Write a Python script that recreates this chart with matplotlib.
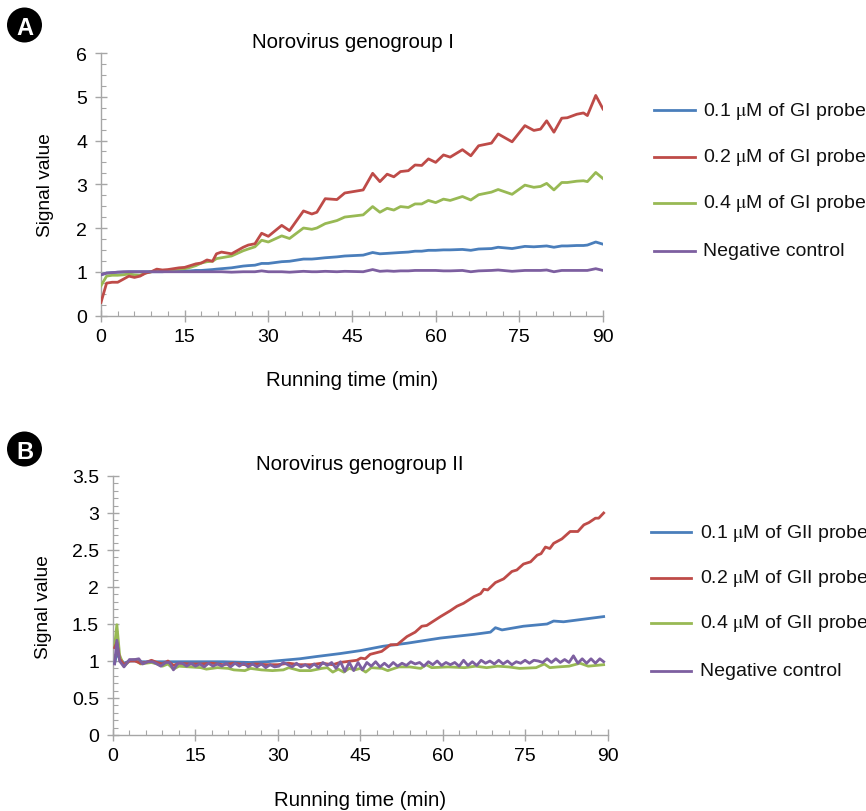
"""Norovirus signal curves, panels A (genogroup I) and B (genogroup II)."""
import matplotlib
matplotlib.use("Agg")
import matplotlib.pyplot as plt
from matplotlib.patches import Ellipse
from matplotlib.ticker import MultipleLocator

plt.rcParams["font.family"] = ["Liberation Sans", "DejaVu Sans"]
plt.rcParams["mathtext.fontset"] = "stix"

BLUE, RED, GREEN, PURPLE = "#4a7ebb", "#be4b48", "#98b954", "#7d5fa0"
GREY = "#a6a6a6"

# ---------------------------------------------------------------------------
# Panel A data (all four curves share the same sampling)
# ---------------------------------------------------------------------------
t_a = [0, 1, 2, 3, 4, 5, 6, 7, 8, 9, 10, 11, 12, 13, 14, 15, 16, 17, 18, 19, 20,
       20.7, 21.6, 23.4, 25.5, 26.4, 27.6, 28.8, 30, 32.4, 33.8, 36.3, 37.8, 38.7,
       40.2, 42.3, 43.7, 47, 48.7, 50, 51.3, 52.5, 53.7, 55.1, 56.3, 57.5, 58.7,
       60, 61.4, 62.6, 64.8, 66.3, 67.7, 70, 71.2, 73.7, 76, 77.6, 78.8, 79.9,
       81.2, 82.6, 83.6, 85.3, 86.5, 87.2, 88.7, 90]
red_a = [0.3, 0.74, 0.76, 0.76, 0.83, 0.9, 0.87, 0.9, 0.97, 1.0, 1.06, 1.04, 1.05,
         1.07, 1.09, 1.1, 1.14, 1.18, 1.2, 1.27, 1.24,
         1.41, 1.45, 1.41, 1.56, 1.61, 1.64, 1.88, 1.81, 2.06, 1.94, 2.39, 2.32, 2.36,
         2.67, 2.65, 2.80, 2.87, 3.25, 3.06, 3.23, 3.17, 3.29, 3.31, 3.44, 3.43, 3.58,
         3.50, 3.67, 3.62, 3.79, 3.65, 3.88, 3.94, 4.15, 3.97, 4.34, 4.23, 4.26, 4.45,
         4.19, 4.51, 4.52, 4.60, 4.63, 4.57, 5.03, 4.72]
green_a = [0.68, 0.9, 0.92, 0.92, 0.93, 0.95, 0.93, 0.92, 0.97, 1.0, 1.03, 1.03, 1.03,
           1.05, 1.06, 1.07, 1.1, 1.14, 1.2, 1.23, 1.24,
           1.3, 1.32, 1.36, 1.48, 1.52, 1.57, 1.72, 1.68, 1.82, 1.76, 2.0, 1.97, 2.0,
           2.1, 2.17, 2.25, 2.30, 2.49, 2.36, 2.45, 2.41, 2.49, 2.47, 2.55, 2.55, 2.63,
           2.58, 2.66, 2.63, 2.72, 2.64, 2.76, 2.82, 2.88, 2.77, 2.98, 2.93, 2.95, 3.02,
           2.87, 3.04, 3.04, 3.07, 3.08, 3.06, 3.27, 3.13]
blue_a = [0.93, 0.97, 0.98, 0.99, 0.99, 1.0, 1.0, 1.0, 1.0, 1.0, 1.0, 1.0, 1.01,
          1.01, 1.01, 1.02, 1.02, 1.03, 1.03, 1.04, 1.05,
          1.06, 1.07, 1.09, 1.13, 1.14, 1.15, 1.19, 1.19, 1.23, 1.24, 1.29, 1.29, 1.30,
          1.32, 1.34, 1.36, 1.38, 1.44, 1.41, 1.42, 1.43, 1.44, 1.45, 1.47, 1.47, 1.49,
          1.49, 1.50, 1.50, 1.51, 1.49, 1.52, 1.53, 1.56, 1.53, 1.58, 1.57, 1.58, 1.59,
          1.56, 1.59, 1.59, 1.60, 1.60, 1.61, 1.68, 1.63]
purple_a = [0.93, 0.97, 0.98, 0.99, 1.0, 1.0, 1.0, 1.0, 1.0, 1.0, 1.0, 1.0, 1.0,
            1.0, 1.0, 1.0, 1.0, 1.0, 1.0, 1.0, 1.0,
            1.0, 1.0, 0.99, 1.0, 1.0, 1.0, 1.02, 1.0, 1.0, 0.99, 1.01, 1.0, 1.0,
            1.01, 1.0, 1.01, 1.0, 1.05, 1.01, 1.02, 1.01, 1.02, 1.02, 1.03, 1.03, 1.03,
            1.03, 1.02, 1.02, 1.03, 1.0, 1.02, 1.03, 1.04, 1.01, 1.03, 1.03, 1.03, 1.04,
            1.0, 1.03, 1.03, 1.03, 1.03, 1.03, 1.07, 1.03]

# ---------------------------------------------------------------------------
# Panel B data
# ---------------------------------------------------------------------------
t_blue_b = [0.3, 0.7, 1.2, 2, 3, 4, 5, 7, 10, 15, 20, 25, 28, 31, 34, 37, 41.3, 45,
            49.2, 53.5, 59.6, 65.7, 68.7, 69.6, 70.8, 74.7, 79, 80.2, 82, 89.3]
blue_b = [0.97, 1.1, 1.04, 0.97, 1.0, 1.0, 0.99, 0.99, 0.99, 0.99, 0.99, 0.98, 0.99,
          1.01, 1.03, 1.06, 1.1, 1.14, 1.2, 1.24, 1.31, 1.36, 1.39, 1.45, 1.42, 1.47,
          1.50, 1.54, 1.53, 1.60]

t_red_b = [0.3, 0.7, 1.2, 2, 3, 4, 5, 6, 7, 8, 9, 10, 11, 12, 14, 16, 18, 20, 22, 24,
           26, 28, 30, 32, 34, 36, 38, 40, 41.3, 44.4, 45.1, 45.9, 46.8, 48.9, 50.5,
           51.7, 53.5, 55, 56.2, 57.1, 59.6, 61.4, 62.6, 63.8, 65.7, 66.9, 67.5, 68.2,
           69.6, 71.1, 72.6, 73.5, 74.7, 76, 77.2, 77.9, 78.7, 79.5, 80.2, 81.7, 83.2,
           84.6, 85.7, 86.6, 87.8, 88.4, 89.3]
red_b = [1.18, 1.25, 1.03, 0.95, 1.0, 1.0, 0.97, 0.98, 1.01, 0.98, 0.96, 1.0, 0.94,
         0.97, 0.96, 0.96, 0.97, 0.95, 0.97, 0.95, 0.96, 0.95, 0.95, 0.97, 0.95, 0.95,
         0.97, 0.95, 0.98, 1.01, 1.04, 1.03, 1.09, 1.13, 1.22, 1.22, 1.33, 1.39, 1.47,
         1.48, 1.60, 1.68, 1.74, 1.78, 1.87, 1.91, 1.97, 1.96, 2.06, 2.11, 2.21, 2.23,
         2.31, 2.34, 2.43, 2.45, 2.54, 2.52, 2.59, 2.65, 2.75, 2.75, 2.84, 2.87, 2.93,
         2.93, 3.0]

t_green_b = [0.3, 0.7, 1.2, 2, 3, 4, 5, 6, 7, 8, 9, 10, 11, 12, 14, 16, 17, 19, 21, 22,
             24, 25, 27, 29, 31, 32, 34, 36, 38, 39, 40, 41, 42, 43, 44, 45, 46, 47, 49,
             50, 52, 54, 56, 57, 58, 61, 64, 66, 68, 70, 72, 74, 77, 78.5, 79.5, 81, 83,
             85, 86.5, 89.3]
green_b = [1.2, 1.49, 1.08, 0.93, 1.0, 1.02, 0.96, 0.97, 0.98, 0.96, 0.93, 0.96, 0.89,
           0.93, 0.92, 0.91, 0.89, 0.91, 0.9, 0.88, 0.87, 0.9, 0.88, 0.87, 0.88, 0.91,
           0.87, 0.87, 0.9, 0.91, 0.85, 0.89, 0.85, 0.9, 0.88, 0.9, 0.85, 0.91, 0.9,
           0.87, 0.92, 0.92, 0.9, 0.95, 0.91, 0.92, 0.91, 0.93, 0.91, 0.93, 0.92, 0.9,
           0.91, 0.96, 0.91, 0.92, 0.93, 0.97, 0.93, 0.95]

t_purple_b = [0.3, 0.7, 1.2, 2, 3, 4, 4.7, 5.4, 6.3, 7.2, 8, 8.7, 9.6, 10.3, 11, 11.8,
              12.6, 13.4, 14.2, 15, 15.8, 16.6, 17.4, 18.2, 19, 19.8, 20.6, 21.4, 22.2,
              23, 23.8, 24.6, 25.4, 26.2, 27, 27.8, 28.6, 29.4, 30.2, 31, 31.8, 32.6,
              33.4, 34.2, 35, 35.8, 36.6, 37.4, 38.2, 39, 39.8, 40.6, 41.4, 42.2, 43,
              43.8, 44.6, 45.4, 46.2, 47, 47.8, 48.6, 49.4, 50.2, 51, 51.8, 52.6, 53.4,
              54.2, 55, 55.8, 56.6, 57.4, 58.2, 59, 59.8, 60.6, 61.4, 62.2, 63, 63.8,
              64.6, 65.4, 66.2, 67, 67.8, 68.6, 69.4, 70.2, 71, 71.8, 72.6, 73.4, 74.2,
              75, 75.8, 76.6, 77.4, 78.2, 79, 79.8, 80.6, 81.4, 82.2, 83, 83.8, 84.6,
              85.4, 86.2, 87, 87.8, 88.6, 89.3]
purple_b = [0.96, 1.28, 1.0, 0.92, 1.02, 1.02, 1.03, 0.96, 0.99, 0.99, 0.96, 0.93, 0.98,
            0.98, 0.88, 0.97, 0.97, 0.93, 0.97, 0.93, 0.96, 0.92, 0.97, 0.93, 0.96, 0.93,
            0.97, 0.92, 0.97, 0.93, 0.97, 0.92, 0.96, 0.92, 0.96, 0.91, 0.95, 0.92, 0.93,
            0.98, 0.95, 0.92, 0.97, 0.92, 0.95, 0.91, 0.96, 0.91, 0.98, 0.94, 0.98, 0.9,
            0.99, 0.86, 0.98, 0.87, 0.98, 0.88, 0.98, 0.93, 0.99, 0.92, 0.97, 0.92, 0.98,
            0.93, 0.97, 0.94, 0.99, 0.96, 0.98, 0.93, 0.99, 0.95, 1.0, 0.94, 0.98, 0.95,
            0.98, 0.93, 1.01, 0.94, 0.99, 0.94, 1.01, 0.97, 1.0, 0.96, 1.01, 0.96, 1.0,
            0.95, 0.99, 0.97, 1.01, 0.97, 1.01, 1.0, 0.98, 1.03, 0.98, 1.03, 0.98,
            1.02, 0.98, 1.07, 0.97, 1.03, 0.97, 1.03, 0.97, 1.03, 0.99]

labels_a = [r"0.1 $\mathrm{\mu}$M of GI probe", r"0.2 $\mathrm{\mu}$M of GI probe",
            r"0.4 $\mathrm{\mu}$M of GI probe", "Negative control"]
labels_b = [r"0.1 $\mathrm{\mu}$M of GII probe", r"0.2 $\mathrm{\mu}$M of GII probe",
            r"0.4 $\mathrm{\mu}$M of GII probe", "Negative control"]
xticks = [0, 15, 30, 45, 60, 75, 90]
yticks_a = [0, 1, 2, 3, 4, 5, 6]
yticks_b = [0, 0.5, 1, 1.5, 2, 2.5, 3, 3.5]
yticklabels_b = ["0", "0.5", "1", "1.5", "2", "2.5", "3", "3.5"]

W, H = 866, 812
FS_TICK = 14
FS_LEG = 14
FS_TITLE = 14.7
FS_YLAB = 13.8
LW = 2.0


def make_axes(fig, left, right, top, bottom):
    return fig.add_axes([left / W, 1 - bottom / H, (right - left) / W, (bottom - top) / H])


def style_axes(ax, ylim, yminor):
    ax.set_xlim(0, 90)
    ax.set_ylim(*ylim)
    ax.set_xticks(xticks)
    ax.xaxis.set_minor_locator(MultipleLocator(3))
    ax.yaxis.set_minor_locator(MultipleLocator(yminor))
    for side in ("top", "right"):
        ax.spines[side].set_visible(False)
    for side in ("left", "bottom"):
        ax.spines[side].set_color(GREY)
        ax.spines[side].set_linewidth(1.0)
    # major ticks cross the axis line, minor ones sit inside
    ax.tick_params(which="major", color=GREY, length=8, width=1, labelsize=FS_TICK,
                   direction="inout")
    ax.tick_params(axis="x", which="major", pad=5)
    ax.tick_params(axis="y", which="major", pad=6)
    ax.tick_params(which="minor", color=GREY, length=3.6, width=0.8, direction="in")


def legend_rows(fig, labels, x0, x1, xt, rows):
    for y, lab, col in zip(rows, labels, (BLUE, RED, GREEN, PURPLE)):
        fig.add_artist(plt.Line2D([x0 / W, x1 / W], [1 - y / H, 1 - y / H],
                                  color=col, lw=LW))
        fig.text(xt / W, 1 - y / H, lab, fontsize=FS_LEG, va="center", ha="left",
                 color="#111111")


def badge(fig, cx, cy, letter):
    fig.add_artist(Ellipse((cx / W, 1 - cy / H), 35 / W, 35 / H, color="black", lw=0))
    fig.text(cx / W, 1 - cy / H, letter, color="white", fontsize=17, fontweight="bold",
             ha="center", va="center_baseline")


fig = plt.figure(figsize=(W / 100, H / 100), dpi=100)

ax_a = make_axes(fig, 101, 603, 54, 316.5)
ax_a.plot(t_a, blue_a, color=BLUE, lw=LW, zorder=3)
ax_a.plot(t_a, red_a, color=RED, lw=LW, zorder=5)
ax_a.plot(t_a, green_a, color=GREEN, lw=LW, zorder=4)
ax_a.plot(t_a, purple_a, color=PURPLE, lw=LW, zorder=6)
style_axes(ax_a, (0, 6), 0.25)
ax_a.set_yticks(yticks_a)
fig.text(353 / W, 1 - 43 / H, "Norovirus genogroup I", fontsize=FS_TITLE, ha="center", va="center")
fig.text(352 / W, 1 - 381 / H, "Running time (min)", fontsize=FS_TITLE, ha="center", va="center")
fig.text(45 / W, 1 - 185 / H, "Signal value", fontsize=FS_YLAB, rotation=90, ha="center", va="center")
legend_rows(fig, labels_a, 654, 695, 703, [111, 158, 204, 252])
badge(fig, 24.5, 26, "A")

ax_b = make_axes(fig, 113, 607.5, 477, 736)
ax_b.plot(t_blue_b, blue_b, color=BLUE, lw=LW, zorder=3)
ax_b.plot(t_red_b, red_b, color=RED, lw=LW, zorder=4)
ax_b.plot(t_green_b, green_b, color=GREEN, lw=LW, zorder=3.5)
ax_b.plot(t_purple_b, purple_b, color=PURPLE, lw=LW, zorder=6)
style_axes(ax_b, (0, 3.5), 0.1)
ax_b.set_yticks(yticks_b)
ax_b.set_yticklabels(yticklabels_b)
fig.text(360 / W, 1 - 465 / H, "Norovirus genogroup II", fontsize=FS_TITLE, ha="center", va="center")
fig.text(360 / W, 1 - 801 / H, "Running time (min)", fontsize=FS_TITLE, ha="center", va="center")
fig.text(43 / W, 1 - 607 / H, "Signal value", fontsize=FS_YLAB, rotation=90, ha="center", va="center")
legend_rows(fig, labels_b, 651, 691, 700, [533, 579, 624, 672])
badge(fig, 24.5, 450, "B")

fig.savefig("out.png", dpi=100, facecolor="white")
